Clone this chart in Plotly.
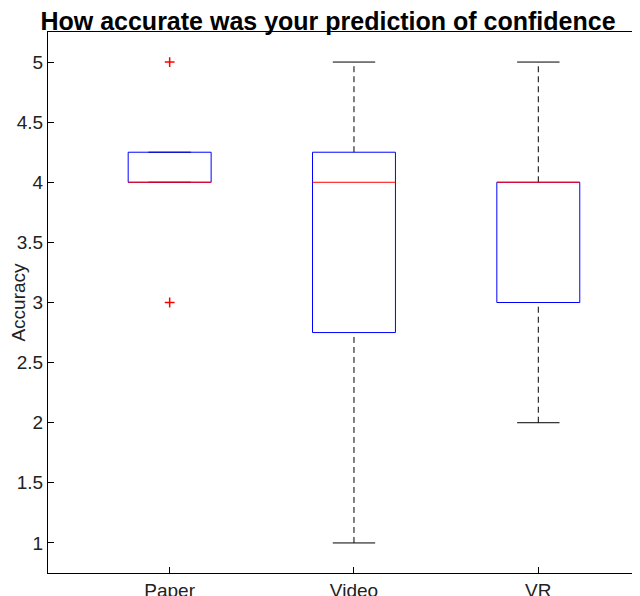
import plotly.graph_objects as go

categories = ["Paper", "Video", "VR"]
q1 = [4.0, 2.75, 3.0]
median = [4.0, 4.0, 4.0]
q3 = [4.25, 4.25, 4.0]
lower_whisker = [4.0, 1.0, 2.0]
upper_whisker = [4.25, 5.0, 5.0]
outlier_x = [1, 1]
outlier_y = [5.0, 3.0]

hw = 0.225   # half box width
cw = 0.115   # half cap width

fig = go.Figure()

for i in range(len(categories)):
    x = i + 1
    # whiskers (dashed)
    if upper_whisker[i] > q3[i]:
        fig.add_scatter(x=[x, x], y=[q3[i], upper_whisker[i]], mode="lines",
                        line=dict(color="black", width=1, dash="6px,4px"))
    if lower_whisker[i] < q1[i]:
        fig.add_scatter(x=[x, x], y=[lower_whisker[i], q1[i]], mode="lines",
                        line=dict(color="black", width=1, dash="6px,4px"))
    # caps
    fig.add_scatter(x=[x - cw, x + cw, None, x - cw, x + cw],
                    y=[upper_whisker[i], upper_whisker[i], None, lower_whisker[i], lower_whisker[i]],
                    mode="lines", line=dict(color="black", width=1))
    # box
    fig.add_scatter(x=[x - hw, x + hw, x + hw, x - hw, x - hw],
                    y=[q1[i], q1[i], q3[i], q3[i], q1[i]],
                    mode="lines", line=dict(color="blue", width=1))
    # median
    fig.add_scatter(x=[x - hw, x + hw], y=[median[i], median[i]], mode="lines",
                    line=dict(color="red", width=1))

fig.add_scatter(x=outlier_x, y=outlier_y, mode="markers",
                marker=dict(symbol="cross-thin", size=7, line=dict(color="red", width=1.5)))

axis_common = dict(showline=True, linecolor="black", linewidth=1, mirror=True,
                   ticks="inside", ticklen=6, tickcolor="black", showgrid=False,
                   zeroline=False, automargin=False, tickfont=dict(size=19, color="#222"))

fig.update_layout(
    width=640, height=596,
    paper_bgcolor="white", plot_bgcolor="white",
    showlegend=False,
    font=dict(family="Liberation Sans, Arial, sans-serif", color="#222"),
    title=dict(text="<b>How accurate was your prediction of confidence</b>",
               x=0.5, xanchor="center", y=0.993, yanchor="top", automargin=False,
               font=dict(size=25, color="black")),
    margin=dict(l=40, r=12, t=24, b=31),
    xaxis=dict(range=[0.34, 3.53], tickvals=[1, 2, 3], ticktext=categories, **axis_common),
    yaxis=dict(range=[0.75, 5.25], dtick=0.5, title=dict(text="Accuracy", font=dict(size=19), standoff=4),
               **axis_common),
)

fig.write_html("out.html")
